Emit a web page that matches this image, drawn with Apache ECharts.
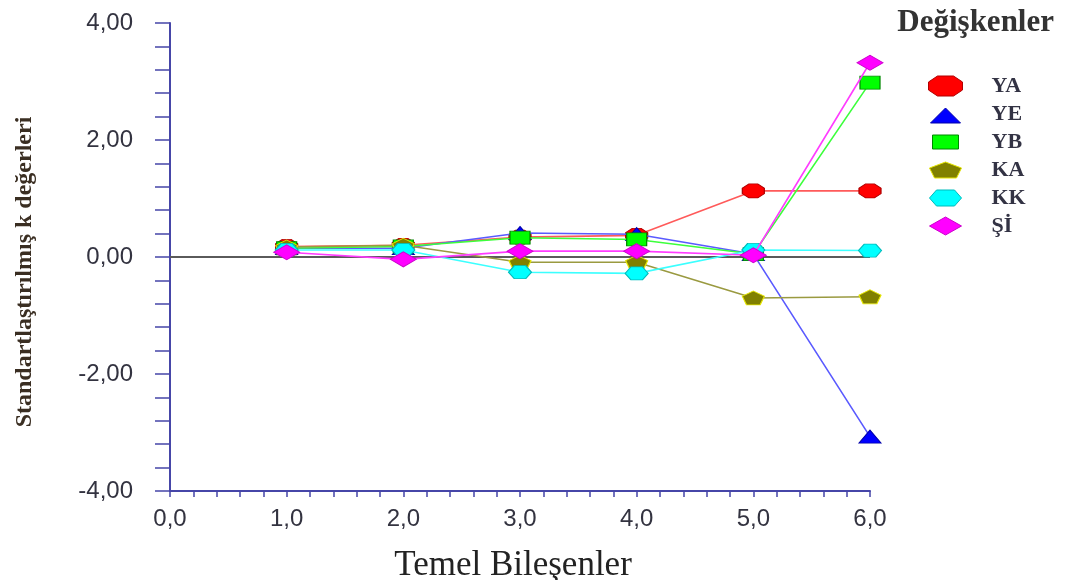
<!DOCTYPE html>
<html>
<head>
<meta charset="utf-8">
<script src="https://cdn.jsdelivr.net/npm/echarts@6/dist/echarts.min.js"></script>
<style>html,body{margin:0;padding:0;background:#fff}#c{width:1071px;height:580px}</style>
</head>
<body>
<div id="c"></div>
<script>
// Data
var components = [1, 2, 3, 4, 5, 6];
var seriesNames = ['YA', 'YE', 'YB', 'KA', 'KK', 'Şİ'];
var YA = [0.18, 0.20, 0.34, 0.37, 1.13, 1.13];
var YE = [0.15, 0.15, 0.41, 0.39, 0.05, -3.07];
var YB = [0.15, 0.18, 0.33, 0.30, 0.05, 2.98];
var KA = [0.17, 0.20, -0.09, -0.09, -0.70, -0.68];
var KK = [0.12, 0.12, -0.26, -0.28, 0.12, 0.11];
var SI = [0.08, -0.04, 0.10, 0.10, 0.03, 3.32];
var yTicks = [-4, -2, 0, 2, 4];
var xTicks = [0, 1, 2, 3, 4, 5, 6];

var octagon = 'path://M3,0L7,0L10,3L10,7L7,10L3,10L0,7L0,3Z';
var pentagon = 'path://M5,0L10,3.8L8.1,10L1.9,10L0,3.8Z';
var hexagon = 'path://M2.5,0L7.5,0L10,5L7.5,10L2.5,10L0,5Z';

var styles = [
  {data: YA, line: '#ff5a5a', fill: '#ff0000', border: '#b00000', symbol: octagon, size: [22, 14],
   legendIcon: 'path://M0,0M34,20M9,0L25,0L34,6L34,14L25,20L9,20L0,14L0,6Z'},
  {data: YE, line: '#5a5aff', fill: '#0000ff', border: '#0000aa', symbol: 'triangle', size: [22, 13],
   legendIcon: 'path://M0,0M34,20M17,4L32,19L2,19Z'},
  {data: YB, line: '#3cff3c', fill: '#00ff00', border: '#008800', symbol: 'rect', size: [20, 13],
   legendIcon: 'path://M0,0M34,20M4,3L30,3L30,17L4,17Z'},
  {data: KA, line: '#9a9a40', fill: '#808000', border: '#e6e600', symbol: pentagon, size: [22, 14],
   legendIcon: 'path://M0,0M34,20M17,2L33,8L28,18L6,18L1,8Z'},
  {data: KK, line: '#3cffff', fill: '#00ffff', border: '#00bbbb', symbol: hexagon, size: [23, 13],
   legendIcon: 'path://M0,0M34,20M8,2L26,2L33,10L26,18L8,18L1,10Z'},
  {data: SI, line: '#ff3cff', fill: '#ff00ff', border: '#cc00cc', symbol: 'diamond', size: [26, 15],
   legendIcon: 'path://M0,0M34,20M17,1L33,10L17,19L1,10Z'}
];

function pairs(vals) {
  return components.map(function (x, i) { return [x, vals[i]]; });
}

var series = styles.map(function (s, i) {
  var o = {
    name: seriesNames[i],
    type: 'line',
    data: pairs(s.data),
    symbol: s.symbol,
    symbolSize: s.size,
    showAllSymbol: true,
    lineStyle: {color: s.line, width: 1.6},
    itemStyle: {color: s.fill, borderColor: s.border, borderWidth: 1},
    emphasis: {disabled: true},
    z: 3 + i
  };
  if (i === 0) {
    o.markLine = {
      silent: true,
      symbol: ['none', 'none'],
      label: {show: false},
      lineStyle: {color: '#5a5a5a', width: 2, type: 'solid'},
      data: [{yAxis: 0}],
      z: 2
    };
  }
  return o;
});

var legendData = styles.map(function (s, i) {
  return {name: seriesNames[i], icon: s.legendIcon, itemStyle: {color: s.fill, borderColor: s.border, borderWidth: 1}};
});

var chart = echarts.init(document.getElementById('c'));
chart.setOption({
  animation: false,
  backgroundColor: '#ffffff',
  title: {
    text: 'Değişkenler',
    right: 12,
    top: 2,
    textStyle: {fontFamily: 'Liberation Serif', fontWeight: 'bold', fontSize: 31, color: '#333333'}
  },
  legend: {
    orient: 'vertical',
    left: 923,
    top: 70,
    itemWidth: 34,
    itemHeight: 20,
    itemGap: 6,
    symbolKeepAspect: false,
    data: legendData,
    selectedMode: false,
    textStyle: {fontFamily: 'Liberation Serif', fontWeight: 'bold', fontSize: 22, color: '#333344', padding: [0, 0, 0, 24]}
  },
  grid: {left: 170, right: 201, top: 23, bottom: 89, outerBoundsMode: 'none', containLabel: false},
  xAxis: {
    type: 'value',
    min: 0, max: 6, interval: 1,
    name: 'Temel Bileşenler',
    nameLocation: 'middle',
    nameGap: 57,
    nameTextStyle: {fontFamily: 'Liberation Serif', fontSize: 35, color: '#222222', padding: [0, 14, 0, 0]},
    axisLine: {show: true, onZero: false, lineStyle: {color: '#4646a8', width: 2}},
    axisTick: {show: true, inside: false, length: 6, lineStyle: {color: '#4646a8', width: 1.5}},
    minorTick: {show: true, splitNumber: 5, length: 6, lineStyle: {color: '#4646a8', width: 1.5}},
    splitLine: {show: false},
    axisLabel: {
      margin: 16,
      fontFamily: 'Liberation Sans', fontSize: 24, color: '#333340',
      formatter: function (v) { return v.toFixed(1).replace('.', ','); }
    }
  },
  yAxis: {
    type: 'value',
    min: -4, max: 4, interval: 2,
    axisLine: {show: true, onZero: false, lineStyle: {color: '#4646a8', width: 2}},
    axisTick: {show: true, inside: false, length: 15, lineStyle: {color: '#4646a8', width: 1.5}},
    minorTick: {show: true, splitNumber: 5, length: 15, lineStyle: {color: '#4646a8', width: 1.5}},
    splitLine: {show: false},
    axisLabel: {
      margin: 37,
      fontFamily: 'Liberation Sans', fontSize: 24, color: '#333340',
      formatter: function (v) { return v.toFixed(2).replace('.', ','); }
    }
  },
  graphic: [{
    type: 'text',
    x: 25,
    y: 272,
    rotation: Math.PI / 2,
    style: {
      text: 'Standartlaştırılmış k değerleri',
      fontFamily: 'Liberation Serif',
      fontWeight: 'bold',
      fontSize: 24,
      fill: '#3a2e22',
      textAlign: 'center',
      textVerticalAlign: 'middle'
    }
  }],
  series: series
});
</script>
</body>
</html>
